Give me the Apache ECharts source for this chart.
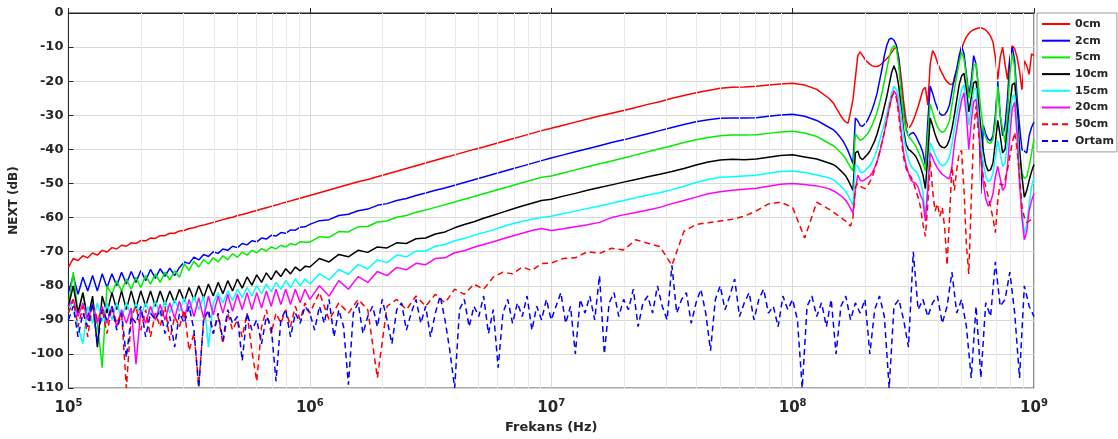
<!DOCTYPE html>
<html><head><meta charset="utf-8">
<script src="https://cdn.jsdelivr.net/npm/echarts@6/dist/echarts.min.js"></script>
<style>html,body{margin:0;padding:0;background:#fff}#c{width:1118px;height:439px}</style>
</head><body><div id="c"></div>
<script>
// Frequency grid (Hz) shared by the measured cable curves
const freq = [
1.000e5,1.047e5,1.096e5,1.148e5,1.202e5,1.259e5,1.318e5,1.380e5,1.445e5,1.514e5,
1.585e5,1.660e5,1.738e5,1.820e5,1.905e5,1.995e5,2.089e5,2.188e5,2.291e5,2.399e5,
2.512e5,2.630e5,2.754e5,2.884e5,3.020e5,3.162e5,3.311e5,3.467e5,3.631e5,3.802e5,
3.981e5,4.169e5,4.365e5,4.571e5,4.786e5,5.012e5,5.248e5,5.495e5,5.754e5,6.026e5,
6.310e5,6.607e5,6.918e5,7.244e5,7.586e5,7.943e5,8.318e5,8.710e5,9.120e5,9.550e5,
1.000e6,1.096e6,1.202e6,1.318e6,1.445e6,1.585e6,1.738e6,1.905e6,2.089e6,2.291e6,
2.512e6,2.754e6,3.020e6,3.311e6,3.631e6,3.981e6,4.365e6,4.786e6,5.248e6,5.754e6,
6.310e6,6.918e6,7.586e6,8.318e6,9.120e6,
1.000e7,1.122e7,1.259e7,1.413e7,1.585e7,1.778e7,1.995e7,2.239e7,2.512e7,2.818e7,
3.162e7,3.548e7,3.981e7,4.467e7,5.012e7,5.623e7,6.310e7,7.079e7,7.943e7,8.913e7,
1.000e8,1.122e8,1.259e8,1.413e8,
1.479e8,1.514e8,1.549e8,1.585e8,1.622e8,1.660e8,1.698e8,1.738e8,1.778e8,1.820e8,
1.862e8,1.905e8,1.950e8,1.995e8,2.042e8,2.089e8,2.138e8,2.188e8,2.239e8,2.291e8,
2.344e8,2.399e8,2.455e8,2.512e8,2.570e8,2.630e8,2.692e8,2.754e8,2.818e8,2.884e8,
2.951e8,3.020e8,3.090e8,3.162e8,3.236e8,3.311e8,3.388e8,3.467e8,3.548e8,3.631e8,
3.715e8,3.802e8,3.890e8,3.981e8,4.074e8,4.169e8,4.266e8,4.365e8,4.467e8,4.571e8,
4.677e8,4.786e8,4.898e8,5.012e8,5.129e8,5.248e8,5.370e8,5.495e8,5.623e8,5.754e8,
5.888e8,6.026e8,6.166e8,6.310e8,6.457e8,6.607e8,6.761e8,6.918e8,7.079e8,7.244e8,
7.413e8,7.586e8,7.762e8,7.943e8,8.128e8,8.318e8,8.511e8,8.710e8,8.913e8,9.120e8,
9.333e8,9.550e8,9.772e8,1.000e9
];

// Frequency grid for the ambient (Ortam) trace: 50 steps per decade
const ortamMantissas = [
1.000,1.047,1.096,1.148,1.202,1.259,1.318,1.380,1.445,1.514,
1.585,1.660,1.738,1.820,1.905,1.995,2.089,2.188,2.291,2.399,
2.512,2.630,2.754,2.884,3.020,3.162,3.311,3.467,3.631,3.802,
3.981,4.169,4.365,4.571,4.786,5.012,5.248,5.495,5.754,6.026,
6.310,6.607,6.918,7.244,7.586,7.943,8.318,8.710,9.120,9.550
];
const ortamDecades = [1e5,1e6,1e7,1e8];

const seriesNames = ['0cm','2cm','5cm','10cm','15cm','20cm','50cm','Ortam'];

const next0cm = [
-74.5,-72,-72.6,-71.2,-71.8,-70.4,-71,-69.6,-70.1,-68.8,
-69.2,-68.1,-68.4,-67.4,-67.6,-66.7,-66.8,-66,-66.1,-65.3,
-65.3,-64.6,-64.6,-63.9,-63.8,-63.2,-63,-62.5,-62.2,-61.8,
-61.4,-61,-60.6,-60.2,-59.9,-59.4,-59.1,-58.7,-58.3,-57.9,
-57.5,-57.1,-56.7,-56.3,-55.9,-55.5,-55.1,-54.7,-54.3,-53.9,
-53.5,-52.7,-51.9,-51.1,-50.3,-49.5,-48.8,-48.0,-47.2,-46.4,
-45.6,-44.8,-44.0,-43.2,-42.4,-41.6,-40.8,-40.0,-39.3,-38.5,
-37.7,-36.9,-36.1,-35.3,-34.5,
-33.8,-32.9,-32.0,-31.1,-30.2,-29.4,-28.6,-27.7,-26.8,-26.0,
-25.0,-24.2,-23.4,-22.7,-22.1,-21.8,-21.7,-21.5,-21.1,-20.8,
-20.6,-21.1,-22.4,-25,
-26.5,-27.8,-29,-30.2,-31.2,-32,-32.3,-29,-25.5,-19,
-12.5,-11.4,-12.5,-13.6,-14.4,-15,-15.5,-15.7,-15.7,-15.4,
-14.8,-14.1,-13.4,-12.6,-11.6,-10.5,-10,-13,-19,-26,
-31.5,-33.8,-33,-31.5,-29.5,-27.5,-25,-22.5,-21.8,-27,
-15,-11,-12.3,-14.5,-16.3,-17.8,-19.2,-20.2,-20.8,-21,
-20,-16.5,-13.5,-10.5,-8.5,-7,-6,-5.3,-4.9,-4.6,
-4.4,-4.3,-4.6,-5,-5.8,-6.8,-8.5,-13,-19.5,-13,
-10,-15,-19.5,-13,-9.6,-10.5,-13,-17,-22.5,-14,
-15.5,-18,-12,-12.5
];

const next2cm = [
-82,-77,-82.5,-77.5,-81.5,-77,-81.5,-76.5,-80.5,-76.5,
-80,-76,-79.5,-75.8,-79,-75.5,-78.5,-75.2,-77.8,-75,
-77.2,-74.8,-77,-74.6,-73,-73.5,-71.6,-72.4,-70.8,-71.4,
-70,-70.5,-69.2,-69.6,-68.4,-68.8,-67.6,-68,-66.8,-67.1,
-66,-66.3,-65.2,-65.4,-64.4,-64.6,-63.6,-63.7,-62.8,-62.7,
-62,-60.9,-60.6,-59.4,-59.0,-58.0,-57.5,-56.4,-55.9,-55.0,
-54.4,-53.5,-52.8,-52.0,-51.3,-50.5,-49.7,-48.9,-48.1,-47.3,
-46.5,-45.7,-44.9,-44.1,-43.3,
-42.5,-41.6,-40.7,-39.8,-38.9,-38,-37.2,-36.3,-35.4,-34.5,
-33.6,-32.7,-31.9,-31.3,-30.9,-30.8,-30.8,-30.7,-30.3,-29.9,
-29.7,-30.3,-31.5,-33.5,
-34.3,-35,-35.8,-36.7,-37.7,-39,-40.5,-42.3,-44.2,-30.8,
-31.6,-33,-33.2,-32.5,-31.5,-30,-28.2,-26,-23.5,-20,
-16.5,-12.5,-9.5,-7.7,-7.4,-8,-9.5,-14,-22,-29,
-34,-36,-35.4,-35,-36,-37.5,-39,-41,-44.5,-32,
-21.4,-23.5,-26,-28,-29.5,-30,-29.8,-28.8,-27,-23,
-19,-16.5,-12.5,-9.7,-12,-18,-24,-20,-12.5,-15,
-22,-53,-33,-35.5,-37,-37.5,-36,-30,-20,-30,
-36,-33,-25,-14,-10,-14,-25,-33,-40,-40.5,
-41,-36,-33.5,-32
];

const next5cm = [
-86,-76,-88,-82,-90,-84,-91,-104,-80,-82.5,
-78.5,-81.5,-78,-81,-77.5,-80.5,-77,-79.5,-76.5,-79,
-76,-78.3,-75.6,-77.5,-73.5,-75.5,-72.8,-74.5,-72.3,-73.6,
-71.8,-73,-71.2,-72.3,-70.6,-71.6,-70.1,-71,-69.6,-70.3,
-69.1,-69.8,-68.6,-69.2,-68.1,-68.6,-67.6,-68,-67.1,-67.2,
-67.2,-65.6,-65.8,-64.1,-64.2,-62.7,-62.6,-61.3,-61.0,-59.9,
-59.4,-58.4,-57.8,-57.0,-56.2,-55.4,-54.6,-53.8,-53.0,-52.2,
-51.4,-50.6,-49.8,-49.0,-48.2,
-47.8,-46.9,-46.0,-45.1,-44.2,-43.4,-42.5,-41.6,-40.7,-39.8,
-38.9,-38.0,-37.2,-36.5,-36.0,-35.8,-35.8,-35.7,-35.3,-34.9,
-34.7,-35.2,-36.2,-38.2,
-39,-39.6,-40.3,-41,-41.8,-42.8,-44,-45.3,-46.3,-35.4,
-36.5,-37.3,-37,-36.2,-35.5,-34.3,-32.8,-31,-29,-26.5,
-23.5,-20,-16.5,-13,-10.5,-9.6,-10.5,-15.5,-23,-30,
-34.5,-36.2,-37,-38,-39,-40.5,-42.2,-44,-46.3,-36,
-26.7,-29,-31.5,-33.3,-34.5,-35,-34.6,-33.3,-31.5,-27,
-22.5,-18.5,-14.5,-11.5,-13.5,-18.6,-25,-22,-15.5,-14.8,
-22,-28.5,-34,-36.5,-38,-38.2,-37,-32,-21.5,-30,
-34,-38,-30,-18,-12,-16,-30,-40,-47,-48.5,
-48,-45,-41,-37
];

const next10cm = [
-86,-80,-88,-82,-90,-83,-98,-83,-88,-82,
-87,-81.5,-87,-81.5,-86.5,-81.5,-86,-81.5,-86,-81.5,
-85.5,-81.5,-85,-81,-84.5,-80.5,-84,-80,-83.5,-79.5,
-83,-79,-82.3,-78.5,-81.5,-78,-80.7,-77.4,-79.8,-76.8,
-79,-76.2,-78.2,-75.6,-77.3,-75,-76.5,-74.5,-75.6,-74.3,
-74.5,-72,-73,-70.8,-71.5,-69.6,-70.2,-68.6,-68.9,-67.4,
-67.6,-66.2,-66,-64.8,-64.2,-63,-62,-61.2,-60.2,-59.3,
-58.4,-57.5,-56.6,-55.8,-55,
-54.6,-53.7,-52.9,-52,-51.2,-50.4,-49.6,-48.8,-48,-47.3,
-46.5,-45.6,-44.6,-43.7,-43.1,-42.9,-43,-42.8,-42.3,-41.8,
-41.6,-42.2,-42.8,-44,
-44.5,-45,-45.6,-46.3,-47,-47.8,-49,-50.5,-52,-41,
-40.5,-42.5,-43,-42.2,-41.5,-40.5,-39,-37.5,-35.5,-33,
-30.5,-27.5,-24.5,-21,-17.5,-15.5,-17.5,-21.5,-28,-34.5,
-38.5,-40,-40.5,-41.2,-42,-43.5,-45.2,-47.5,-51.5,-42,
-30.8,-33,-35.5,-37.5,-38.8,-39.4,-39.5,-38.8,-37,-34,
-30,-25.5,-21,-18.5,-17.7,-22.5,-29,-25,-20.5,-20,
-27,-34,-40.5,-44.5,-46.3,-46,-44,-38,-31.5,-36,
-41,-40,-34,-27,-21,-20.5,-28,-40,-48,-54,
-52,-49,-46.5,-44.4
];

const next15cm = [
-88,-84,-92,-97,-86,-91,-85,-90.5,-85,-90,
-85,-89.5,-85,-89,-85,-89,-85,-88.5,-84.5,-88.5,
-84.5,-88,-84,-87.5,-83.5,-87.5,-83,-87,-83,-98,
-85,-82,-85,-81.5,-84.3,-81,-83.5,-80.5,-83,-80,
-82.3,-79.5,-81.7,-79,-81,-78.5,-80.5,-78,-80,-78,
-79.5,-76.5,-78.2,-75.2,-76.6,-73.8,-75,-72.4,-73.2,-71,
-71.5,-69.8,-69.8,-68.4,-67.9,-66.8,-66.1,-65.2,-64.4,-63.6,
-62.6,-61.8,-61.1,-60.5,-60,
-59.6,-58.8,-58.1,-57.3,-56.6,-55.8,-55,-54.2,-53.4,-52.7,
-51.8,-50.8,-49.7,-48.8,-48.2,-48,-47.8,-47.6,-47,-46.5,
-46.3,-46.8,-47.5,-48.3,
-49,-49.5,-50.1,-50.8,-51.5,-52.4,-53.5,-54.9,-56.4,-44.5,
-45,-46.6,-46.8,-46.2,-45.5,-44.8,-43.5,-42,-40,-37.5,
-35,-32.5,-29.5,-26.5,-23.5,-21.5,-22.5,-25,-30,-36,
-40.5,-43,-44.8,-45.8,-46.3,-47.5,-49.5,-52.5,-60,-50,
-38,-39.5,-41.4,-43,-44.3,-44.8,-44.5,-43.6,-42,-38.5,
-34,-30,-26,-22.5,-21,-26,-33,-28,-22.5,-22,
-30,-38,-44,-48,-49.5,-49,-47,-42,-37.5,-41,
-45,-44,-38,-30,-24.5,-24,-32,-46,-58,-64.5,
-62,-56,-51,-48.2
];

const next20cm = [
-86,-84,-89,-85,-90,-85.5,-91,-86,-91,-86,
-92,-87,-91,-86.5,-103,-87,-91,-86,-90,-85.5,
-90,-85,-89.5,-84.5,-89.5,-84,-89,-83.5,-89.5,-83,
-88.5,-83,-88,-82.5,-87.5,-82.5,-87,-82,-87,-82,
-86.5,-81.5,-86,-81,-85.5,-81,-85.5,-81,-85,-81,
-84,-80,-83,-78.5,-81,-77.3,-79,-75.8,-77,-74.6,
-75.3,-73.4,-73.8,-72,-71.8,-70.3,-69.7,-68.7,-67.9,-67.1,
-66.2,-65.4,-64.6,-63.8,-63.2,
-63.8,-63.3,-62.7,-62.1,-61.4,-60,-59.2,-58.5,-57.8,-57,
-55.9,-55,-54,-53,-52.4,-52,-51.7,-51.4,-50.8,-50.2,
-50,-50.3,-50.7,-51.5,
-52.2,-52.6,-53.1,-53.6,-54.2,-55,-56,-57.3,-58.7,-52,
-47.5,-49,-49.3,-48.8,-48.3,-47.8,-46.8,-45.3,-43.5,-41,
-38,-35,-31.5,-28,-25,-22.8,-24,-28.5,-35,-41,
-44.5,-47,-49,-49.6,-50,-51,-53.5,-55,-61,-52,
-41,-42.5,-44.2,-45.5,-46.5,-47.3,-47.8,-48.4,-48.6,-45,
-38.5,-34,-29.5,-25.5,-23.4,-30,-40,-32,-26,-25.3,
-33,-43,-50,-54.5,-56.6,-55.5,-53,-48,-45,-48.5,
-52,-51,-45,-36,-28,-26.2,-36,-50,-60,-66.5,
-64,-58,-55,-53
];

const next50cm = [
-88,-84,-92,-86,-95,-85,-90,-87,-94,-86,
-91,-88,-110,-89,-86,-93,-87,-95,-88,-92,
-86,-96,-89,-92,-87,-99,-94,-109,-90,-88,
-94,-89,-97,-88,-93,-90,-95,-88,-99,-108,
-92,-87,-94,-88,-91,-87,-92,-86,-90,-85,
-88,-82,-90,-85,-88,-84,-87,-107,-86,-84,
-87,-83,-86,-82.5,-85,-81,-82.5,-79.5,-81,-77.5,
-76,-76.5,-74.5,-75.5,-73.5,
-73.3,-72,-71.8,-70,-70.5,-69,-69.5,-66.5,-67.5,-68.5,
-74,-64,-62,-61.5,-61,-60.5,-59.6,-58,-56,-55.5,
-57,-66,-55.5,-57.5,
-58.5,-59,-59.5,-60,-60.5,-61,-61.8,-62.5,-60,-51,
-50,-50.8,-51.2,-51.5,-50.8,-49.5,-48,-46,-43.5,-41,
-38,-35,-31.5,-28,-24.5,-23.4,-25,-30,-37,-42.5,
-45.5,-47.2,-48,-49.5,-52,-54,-57,-62,-65.5,-56,
-43.4,-52,-58.1,-56,-59.6,-57,-63,-74,-60,-45,
-52,-46,-41,-40.3,-52,-68,-76.5,-55,-35,-27.2,
-35,-43,-48,-51,-53.7,-57,-60,-64.4,-55,-50,
-50.5,-49,-46,-42,-38,-35,-40,-48,-56.7,-60,
-61.5,-61,-60.5,-60.6
];

// Ortam values on its own 50-per-decade grid (201 points)
const nextOrtam = [
-90,-86,-95,-88,-92,-85,-97,-87,-90,-86,
-93,-88,-101,-89,-91,-86,-95,-88,-90,-87,
-94,-89,-98,-88,-91,-86,-93,-110,-90,-87,
-94,-88,-96,-87,-91,-89,-102,-88,-93,-90,
-97,-89,-92,-108,-90,-87,-95,-88,-91,-86,
-88,-93,-86,-91,-84,-95,-87,-92,-109,-88,
-85,-94,-89,-86,-92,-84,-90,-97,-87,-85,
-93,-88,-84,-91,-86,-95,-88,-83,-90,-99,
-110,-87,-84,-92,-86,-89,-83,-94,-87,-104,
-88,-84,-91,-85,-89,-83,-93,-86,-90,-84,
-90,-86,-82,-91,-86,-100,-84,-88,-83,-90,
-77,-100,-85,-82,-89,-84,-87,-81,-92,-85,
-83,-88,-80,-86,-90,-74,-88,-84,-82,-91,
-85,-81,-88,-99,-84,-80,-87,-83,-78,-89,
-85,-82,-90,-84,-81,-88,-86,-92,-83,-87,
-84,-90,-110,-86,-83,-89,-85,-92,-84,-100,
-86,-83,-90,-85,-88,-84,-100,-87,-83,-89,
-110,-86,-84,-90,-98,-70,-87,-84,-89,-85,
-83,-91,-86,-76,-88,-84,-92,-107,-86,-107,
-85,-89,-73,-86,-84,-76,-88,-107,-80,-86,
-89
];

const yTickValues = [0,-10,-20,-30,-40,-50,-60,-70,-80,-90,-100,-110];
const xDecades = [1e5,1e6,1e7,1e8,1e9];
const minorMultipliers = [2,3,4,5,6,7,8,9];

const freqOrtam = [];
ortamDecades.forEach(d => ortamMantissas.forEach(m => freqOrtam.push(m * d)));
freqOrtam.push(1e9);

const seriesValues = [next0cm,next2cm,next5cm,next10cm,next15cm,next20cm,next50cm,nextOrtam];
const seriesFreq   = [freq,freq,freq,freq,freq,freq,freq,freqOrtam];
const seriesColors = ['#ff0000','#0000ff','#00ee00','#000000','#00ffff','#ff00ff','#ff0000','#0000ff'];
const seriesDashed = [false,false,false,false,false,false,true,true];

const FONT = 'DejaVu Sans';
const chart = echarts.init(document.getElementById('c'), null, {renderer:'canvas'});

const minorLines = [];
for (let d = 0; d < xDecades.length - 1; d++) {
  for (const m of minorMultipliers) minorLines.push({xAxis: xDecades[d] * m});
}

const series = [{
  type:'line', name:'_grid', data:[], z:1, silent:true,
  markLine:{silent:true, symbol:['none','none'], label:{show:false},
    lineStyle:{color:'#ebebeb', width:1, type:'solid'}, data:minorLines, animation:false}
}];
seriesValues.forEach((vals,i)=>{
  const fx = seriesFreq[i];
  series.push({
    type:'line', name:seriesNames[i], z:3+i,
    data: fx.map((f,j)=>[f, vals[j]]),
    symbol:'none', showSymbol:false, sampling:null,
    lineStyle:{color:seriesColors[i], width:1.5, type: seriesDashed[i] ? [6,4] : 'solid'},
    itemStyle:{color:seriesColors[i]},
    animation:false
  });
});

chart.setOption({
  backgroundColor:'#ffffff',
  animation:false,
  grid:{left:68, right:84, top:13, bottom:45, show:true, borderColor:'#262626', borderWidth:1, backgroundColor:'#ffffff'},
  legend:{
    data: seriesNames, orient:'vertical', left:1037, top:13,
    backgroundColor:'#ffffff', borderColor:'#9a9a9a', borderWidth:1, borderRadius:0,
    padding:[5,3,5,4], itemWidth:28, itemHeight:12, itemGap:4.7,
    itemStyle:{opacity:0},
    textStyle:{fontFamily:FONT, fontWeight:'bold', fontSize:11, color:'#262626', lineHeight:12}
  },
  xAxis:{
    type:'log', logBase:10, min:1e5, max:1e9,
    name:'Frekans (Hz)', nameLocation:'middle', nameGap:29,
    nameTextStyle:{fontFamily:FONT, fontWeight:'bold', fontSize:13, color:'#262626'},
    axisLine:{show:true, lineStyle:{color:'#262626'}},
    axisTick:{show:true, inside:true, length:5, lineStyle:{color:'#262626'}},
    splitLine:{show:true, lineStyle:{color:'#d8d8d8', width:1}},
    axisLabel:{
      margin:10, color:'#262626',
      formatter: v => '{b|10}{s|' + Math.round(Math.log10(v)) + '}',
      rich:{
        b:{fontFamily:FONT, fontWeight:'bold', fontSize:15, color:'#262626', verticalAlign:'bottom', lineHeight:18},
        s:{fontFamily:FONT, fontWeight:'bold', fontSize:10, color:'#262626', verticalAlign:'top', lineHeight:10}
      }
    }
  },
  yAxis:{
    type:'value', min:-110, max:0, interval:10,
    name:'NEXT (dB)', nameLocation:'middle', nameGap:48, nameRotate:90,
    nameTextStyle:{fontFamily:FONT, fontWeight:'bold', fontSize:12, color:'#262626'},
    axisLine:{show:true, lineStyle:{color:'#262626'}},
    axisTick:{show:true, inside:true, length:5, lineStyle:{color:'#262626'}},
    splitLine:{show:true, lineStyle:{color:'#d8d8d8', width:1}},
    axisLabel:{fontFamily:FONT, fontWeight:'bold', fontSize:13, color:'#262626', margin:5,
      customValues: yTickValues}
  },
  series
});
</script>
</body></html>
